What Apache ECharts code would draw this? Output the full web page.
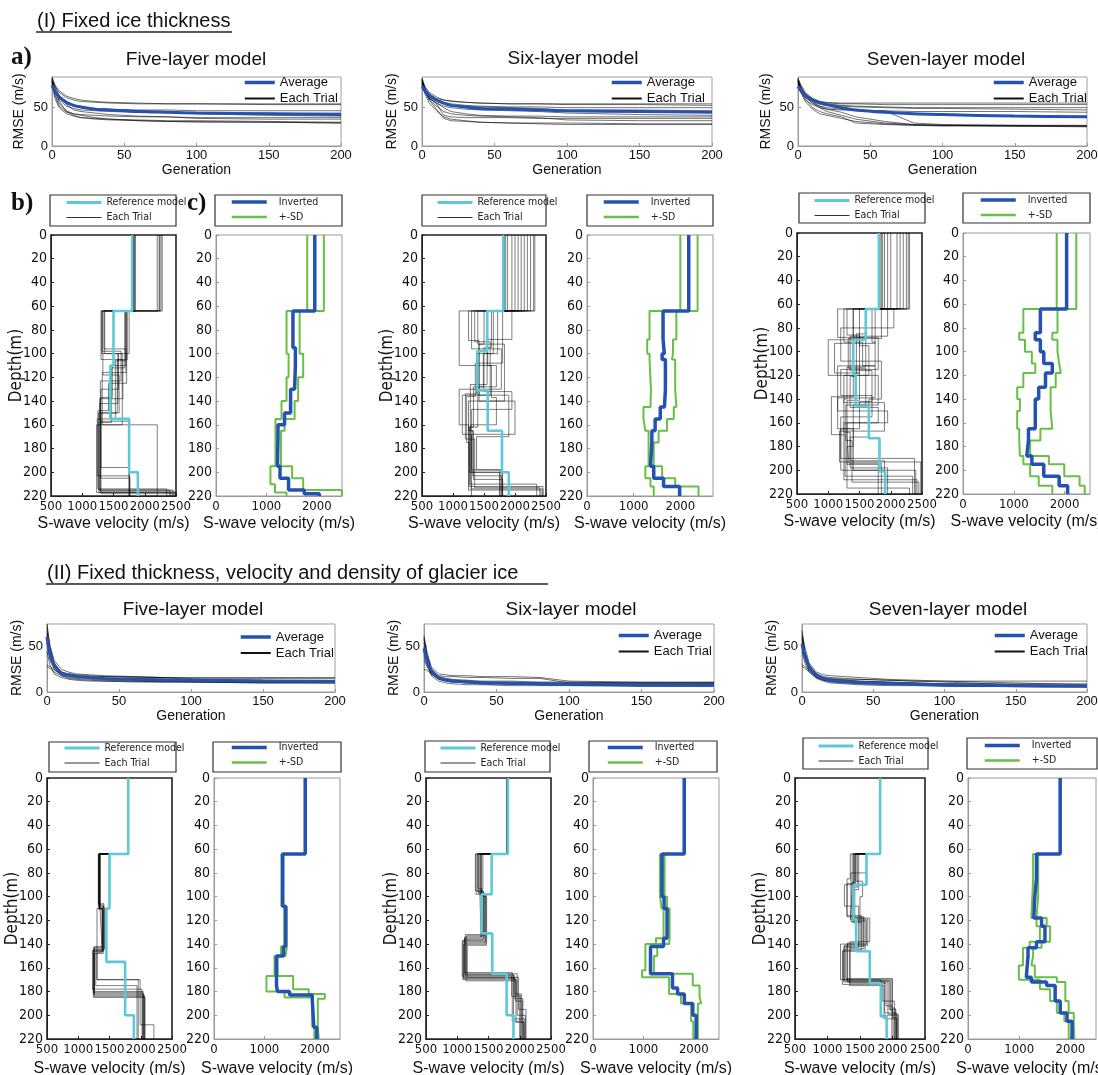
<!DOCTYPE html>
<html><head><meta charset="utf-8">
<script src="https://cdn.jsdelivr.net/npm/echarts@6/dist/echarts.min.js"></script>
<style>html,body{margin:0;padding:0;background:#fff}#c{width:1098px;height:1075px}</style>
</head><body><div id="c"></div><script>
// ---------------- DATA ----------------
const gens = [0,2,5,10,15,20,30,40,60,80,100,150,200];

// RMSE, section I
const avgI5 = [79,72,64,57,53,51,48,47,45,44,43,42,41];
const rmseI5 = [
 [86,78,70,63,60,58,57,56,55,55,55,54,54],
 [90,80,72,65,62,60,58,57,56,55,55,55,55],
 [84,74,64,56,52,50,49,48,47,47,46,46,46],
 [88,70,60,52,49,47,46,45,44,44,43,43,43],
 [82,72,62,55,52,50,48,47,46,45,42,40,39],
 [85,66,52,44,42,41,40,39,38,38,37,37,37],
 [80,62,50,42,39,37,36,35,34,33,33,32,31],
 [87,75,58,45,40,37,35,34,33,32,32,31,30],
 [83,68,55,46,42,40,37,35,33,32,31,31,30],
 [89,78,66,54,47,45,43,41,39,38,36,35,35]];
const avgI6 = [78,72,66,60,56,53,51,49,48,47,46,45,44];
const rmseI6 = [
 [84,76,68,62,60,58,57,56,55,55,55,55,55],
 [88,78,70,64,60,59,57,56,55,55,54,54,53],
 [82,74,66,60,57,55,53,52,51,51,50,50,50],
 [86,72,64,58,55,53,52,51,50,49,47,47,46],
 [80,70,62,56,52,50,48,47,46,45,43,41,40],
 [85,74,63,55,40,38,37,37,37,36,36,36,36],
 [83,70,60,52,45,42,40,39,38,37,34,33,33],
 [88,76,60,48,36,33,32,31,30,30,30,29,29],
 [81,68,56,46,38,35,33,31,30,29,28,28,28],
 [87,72,62,56,50,45,42,40,39,39,38,38,38]];
const avgI7 = [78,72,66,60,56,54,50,47,44,42,41,39,38];
const rmseI7 = [
 [85,76,68,62,58,57,56,56,56,56,56,56,56],
 [88,80,70,62,58,56,55,55,54,54,54,54,54],
 [83,74,66,60,57,55,53,52,51,50,50,50,50],
 [86,72,64,58,55,53,52,51,50,49,49,48,47],
 [80,70,60,54,50,48,47,46,46,45,45,45,44],
 [87,76,62,50,45,42,38,30,28,27,27,27,27],
 [82,72,64,56,50,45,40,35,30,28,27,26,26],
 [88,78,68,58,52,48,44,38,32,28,27,26,25],
 [84,70,58,48,42,40,36,32,29,27,26,26,26],
 [86,74,64,56,52,50,48,47,46,30,28,27,26]];

// RMSE, section II
const avgII5 = [61,42,30,21,19,17.5,16,15,14,13.5,13,12,11.5];
const rmseII5 = [
 [75,50,30,22,20,19,18,17,16,16,16,16,16],
 [68,45,28,20,18,17,16,15,15,14,14,13,13],
 [55,35,25,19,17,16,15,14,13,12,12,11,11],
 [30,28,24,20,18,17,16,15,14,13,12,11,10],
 [72,52,35,25,22,20,19,18,17,16,15,15,15],
 [62,40,26,18,15,14,13,12,12,11,11,10,10],
 [45,30,20,16,14,13,12,12,11,11,11,10,10],
 [28,26,22,18,16,15,14,13,12,12,11,11,11],
 [65,48,32,22,19,18,17,17,17,16,14,13,12],
 [58,38,27,21,18,17,16,15,14,14,13,12,12]];
const avgII6 = [48,35,24,16,13.5,12,11,10,9.5,9,8.5,8,7.5];
const rmseII6 = [
 [60,40,25,18,17,17,16,16,15,15,10,10,10],
 [55,38,22,16,14,13,12,11,11,10,10,10,10],
 [40,30,20,14,12,11,10,9,9,8,8,8,8],
 [25,24,20,15,13,12,11,10,9,9,8,7,7],
 [62,45,28,20,19,18,18,17,17,16,12,11,11],
 [50,32,18,12,10,9,8,8,7,7,7,6,6],
 [58,42,26,17,15,14,13,12,12,11,11,10,10],
 [35,28,20,14,12,11,10,10,9,8,8,7,7],
 [48,36,23,15,13,12,11,10,9,9,8,8,8],
 [45,34,22,16,14,13,12,11,10,10,9,9,9]];
const avgII7 = [53,40,28,19,15,13,11.5,10.5,9.5,8.5,8,7,6.5];
const rmseII7 = [
 [68,45,30,20,17,16,15,14,13,12,12,12,12],
 [60,42,26,18,15,14,13,12,11,10,9,9,9],
 [30,28,24,18,15,13,12,11,10,9,8,7,7],
 [55,38,25,16,13,12,11,10,9,8,7,6,6],
 [65,50,32,22,19,18,17,16,14,13,12,10,8],
 [45,32,22,15,12,10,9,8,7,7,6,6,5],
 [28,26,22,17,14,12,11,10,9,8,8,7,7],
 [62,44,28,19,16,15,14,14,13,12,11,8,7],
 [50,36,24,16,13,11,10,9,8,8,7,6,6],
 [58,40,27,18,15,14,13,12,11,10,9,8,7]];

// Velocity profiles: each layer = [velocity (m/s), bottom depth (m)]
const ref5 = [[1800,64],[1500,110],[1450,155],[1750,200],[1890,220]];
const ref6 = [[1810,64],[1550,98],[1390,131],[1560,165],[1790,200],[1900,220]];
const ref7 = [[1810,64],[1600,90],[1400,119],[1440,146],[1650,173],[1820,201],[1910,220]];

const trialsI5 = [
 [[1820,64],[1320,98],[1620,123],[1290,216],[2470,220]],
 [[1830,64],[1720,105],[1560,150],[1260,215],[2400,220]],
 [[2230,64],[1310,100],[1640,160],[1230,217],[2500,220]],
 [[2260,64],[1700,110],[1480,137],[1290,205],[1760,220]],
 [[1810,64],[1350,96],[1700,116],[1320,160],[2200,220]],
 [[2200,64],[1750,100],[1570,142],[1280,157],[1750,220]],
 [[1840,64],[1330,118],[1590,150],[1300,196],[1750,220]],
 [[2240,64],[1690,106],[1530,155],[1240,203],[1760,220]],
 [[1820,64],[1300,105],[1650,138],[1280,215],[2450,220]],
 [[1850,64],[1710,125],[1420,148],[1250,214],[2350,220]],
 [[2280,64],[1360,100],[1580,130],[1300,218],[2500,220]],
 [[1800,64],[1680,112],[1470,158],[1270,217],[2420,220]]];
const trialsI6 = [
 [[1830,64],[1350,90],[1600,135],[1150,168],[1290,200],[1800,220]],
 [[2320,64],[1100,110],[1700,128],[1400,162],[1260,212],[2450,220]],
 [[2100,64],[1500,92],[1420,140],[2000,168],[1300,198],[1760,220]],
 [[1950,64],[1650,100],[1380,134],[1200,172],[1350,213],[2400,220]],
 [[2200,64],[1950,88],[1550,126],[1280,165],[1330,206],[1800,220]],
 [[2050,64],[1300,96],[1780,130],[1100,160],[1250,215],[2420,220]],
 [[1880,64],[1560,110],[1620,137],[1700,160],[1280,200],[1300,220]],
 [[2250,64],[1250,89],[1420,135],[1900,170],[1380,198],[1790,220]],
 [[2000,64],[1720,100],[1490,128],[1330,162],[1270,210],[2350,220]],
 [[2150,64],[1400,92],[1830,140],[1250,165],[1320,203],[1780,220]],
 [[1850,64],[1620,95],[1500,132],[1950,147],[1300,214],[2450,220]],
 [[2300,64],[1800,108],[1360,136],[1220,175],[1260,200],[1750,220]]];
const trialsI7 = [
 [[1830,64],[1150,88],[1600,113],[1300,140],[1250,168],[1350,192],[1900,220]],
 [[2250,64],[1950,87],[1350,116],[1700,142],[1500,165],[1200,200],[2400,220]],
 [[1900,64],[1400,90],[1000,120],[1800,145],[1280,175],[1380,210],[2450,220]],
 [[2100,64],[1700,92],[1750,112],[1150,150],[1950,160],[1300,195],[1800,220]],
 [[2300,64],[1300,86],[1500,118],[1400,138],[1050,170],[1270,205],[2350,220]],
 [[1850,64],[2050,80],[1200,108],[1850,140],[1650,172],[1350,198],[1950,220]],
 [[2000,64],[1500,95],[1650,120],[1250,143],[1900,167],[1180,193],[2480,220]],
 [[2200,64],[1850,89],[1320,114],[1600,145],[1400,180],[1300,215],[2300,220]],
 [[1950,64],[1250,92],[1550,112],[1750,139],[1150,165],[1400,200],[1900,220]],
 [[2150,64],[1600,85],[1450,121],[1350,147],[1800,160],[1250,208],[2420,220]],
 [[1870,64],[1750,93],[1100,118],[1500,141],[1300,170],[1330,194],[1850,220]],
 [[2280,64],[1400,88],[1800,115],[1200,137],[1700,155],[1200,190],[2380,220]]];

const trialsII5 = [
 [[1800,64],[1330,110],[1390,145],[1250,182],[2050,220]],
 [[1800,64],[1340,108],[1400,148],[1260,180],[2040,220]],
 [[1800,64],[1350,112],[1380,143],[1240,184],[2060,220]],
 [[1800,64],[1320,106],[1410,146],[1230,178],[2020,220]],
 [[1800,64],[1345,110],[1380,147],[1300,170],[1960,220]],
 [[1800,64],[1335,109],[1420,144],[1250,185],[2070,220]],
 [[1800,64],[1340,110],[1300,170],[1990,208],[2210,220]],
 [[1800,64],[1325,107],[1400,145],[1240,181],[2030,220]],
 [[1800,64],[1350,110],[1385,142],[1260,183],[2050,220]],
 [[1800,64],[1330,111],[1395,146],[1280,175],[1940,220]]];
const trialsII6 = [
 [[1800,64],[1320,96],[1420,136],[1110,168],[1920,186],[2050,220]],
 [[1800,64],[1380,94],[1400,132],[1130,166],[1900,203],[2080,220]],
 [[1800,64],[1300,98],[1450,138],[1090,170],[1950,183],[2010,220]],
 [[1800,64],[1360,92],[1380,135],[1120,164],[1880,205],[2060,220]],
 [[1800,64],[1410,100],[1460,140],[1100,169],[1930,188],[2040,220]],
 [[1800,64],[1340,97],[1430,133],[1150,165],[1960,200],[2090,220]],
 [[1800,64],[1290,95],[1410,137],[1080,167],[1870,184],[2000,220]],
 [[1800,64],[1370,99],[1440,139],[1140,171],[1940,206],[2070,220]],
 [[1800,64],[1330,93],[1390,134],[1120,166],[1910,182],[2030,220]],
 [[1800,64],[1390,98],[1470,141],[1160,168],[1980,195],[2100,220]]];
const trialsII7 = [
 [[1800,64],[1420,88],[1380,118],[1550,142],[1250,172],[1880,198],[2060,220]],
 [[1800,64],[1460,92],[1400,120],[1600,140],[1300,171],[1950,195],[2050,220]],
 [[1800,64],[1350,85],[1300,116],[1520,145],[1240,170],[1820,200],[2080,220]],
 [[1800,64],[1480,94],[1420,118],[1650,138],[1350,173],[1900,192],[1990,220]],
 [[1800,64],[1400,90],[1260,108],[1480,143],[1280,169],[2000,202],[2070,220]],
 [[1800,64],[1600,80],[1360,121],[1580,146],[1230,174],[1850,188],[2030,220]],
 [[1800,64],[1440,87],[1540,100],[1500,139],[1310,172],[1930,199],[2090,220]],
 [[1800,64],[1380,95],[1350,119],[1620,141],[1260,171],[1970,196],[2010,220]],
 [[1800,64],[1430,89],[1300,117],[1560,144],[1340,175],[1870,203],[2060,220]],
 [[1800,64],[1410,91],[1390,122],[1530,140],[1200,170],[1990,194],[2040,220]]];

const invI5 = [[1960,64],[1527,95],[1575,110],[1560,130],[1480,150],[1360,160],[1230,170],[1220,195],[1270,205],[1440,215],[1750,218],[2050,220]];
const sdLoI5 = [[1810,64],[1400,100],[1440,120],[1400,140],[1300,155],[1180,195],[1080,210],[1170,217],[1400,220]];
const sdHiI5 = [[2140,64],[1660,100],[1730,120],[1630,140],[1560,155],[1360,165],[1290,195],[1510,205],[1730,215],[2500,220]];
const invI6 = [[2180,64],[1630,88],[1657,100],[1610,105],[1680,130],[1660,145],[1570,155],[1460,165],[1390,175],[1360,195],[1430,205],[1640,212],[1985,220]];
const sdLoI6 = [[2000,64],[1340,88],[1290,100],[1340,105],[1370,130],[1360,145],[1210,155],[1250,165],[1320,195],[1250,205],[1360,212],[1430,220]];
const sdHiI6 = [[2370,64],[1915,88],[1843,100],[1820,105],[1890,130],[1915,145],[1860,155],[1715,165],[1535,175],[1430,195],[1610,205],[1890,212],[2390,220]];
const invI7 = [[2040,64],[1523,84],[1423,90],[1523,100],[1590,110],[1758,118],[1624,130],[1490,140],[1423,165],[1289,175],[1255,188],[1356,195],[1590,205],[1893,213],[2060,220]];
const sdLoI7 = [[1845,64],[1188,84],[1107,90],[1220,100],[1355,110],[1423,118],[1188,130],[1067,140],[1120,150],[1067,165],[1107,175],[1120,188],[1188,195],[1322,205],[1490,213],[1758,220]];
const sdHiI7 = [[2230,64],[1860,84],[1758,90],[1860,100],[1893,110],[1926,118],[1825,130],[1725,150],[1758,165],[1523,175],[1322,188],[1691,195],[1993,205],[2295,213],[2396,220]];

const invII5 = [[1810,64],[1360,108],[1420,142],[1380,150],[1240,175],[1260,180],[1500,183],[1950,187],[1980,210],[2040,220]];
const sdLoII5 = [[1810,64],[1340,108],[1395,142],[1330,150],[1200,167],[1040,180],[1400,185],[1950,210],[1990,220]];
const sdHiII5 = [[1810,64],[1380,108],[1445,142],[1420,150],[1260,167],[1570,178],[1880,182],[2200,186],[2060,210],[2080,220]];
const invII6 = [[1810,64],[1370,100],[1410,110],[1470,135],[1400,142],[1141,165],[1577,177],[1678,182],[1812,190],[1980,200],[2047,220]];
const sdLoII6 = [[1810,64],[1330,100],[1360,110],[1400,135],[1250,140],[1040,162],[973,168],[1510,182],[1745,190],[1946,205],[1990,220]];
const sdHiII6 = [[1810,64],[1420,100],[1470,110],[1520,135],[1510,140],[1275,150],[1208,165],[1980,175],[2114,185],[2148,190],[2081,220]];
const invII7 = [[1800,64],[1338,85],[1305,100],[1285,118],[1437,125],[1503,138],[1338,143],[1172,150],[1139,168],[1238,172],[1536,175],[1702,188],[1801,198],[1934,205],[2033,220]];
const sdLoII7 = [[1800,64],[1272,85],[1238,118],[1338,125],[1404,138],[1205,143],[1073,158],[993,170],[1404,178],[1603,188],[1735,198],[1881,205],[1967,220]];
const sdHiII7 = [[1800,64],[1371,100],[1338,118],[1536,125],[1603,138],[1437,143],[1272,150],[1238,158],[1305,168],[1735,172],[1901,188],[1967,198],[2066,210],[2079,220]];

// ---------------- BUILD ----------------
const F = '"Liberation Sans", Arial, sans-serif';
const FN = '"Liberation Sans Narrow", "DejaVu Sans Condensed", "Liberation Sans", sans-serif';
const BLUE = '#2352b3', CYAN = '#5cc8d8', GREEN = '#68bf45', TRIAL = 'rgba(0,0,0,0.5)';
const grids = [], xAxes = [], yAxes = [], series = [], legends = [], graphics = [];
const plain = v => String(v);

function steps(layers){ const p=[]; let top=0; layers.forEach(([v,b])=>{p.push([v,top]); p.push([v,b]); top=b;}); return p; }

function addRmse(box, ymax, xGap, yGap, trials, avg, leg){
  const gi = grids.length;
  grids.push({left:box[0], top:box[1], width:box[2], height:box[3], show:true, borderColor:'#a0a0a0', borderWidth:1, outerBoundsMode:'none', containLabel:false});
  const lab = {fontSize:13, color:'#111', fontFamily:F, formatter:plain};
  xAxes.push({gridIndex:gi, type:'value', min:0, max:200, interval:50, name:'Generation', nameLocation:'middle', nameGap:xGap,
    nameTextStyle:{fontSize:14, color:'#111', fontFamily:F}, axisLine:{onZero:false, lineStyle:{color:'#999'}},
    axisTick:{inside:true, length:3, lineStyle:{color:'#999'}}, axisLabel:Object.assign({margin:3}, lab), splitLine:{show:false}});
  yAxes.push({gridIndex:gi, type:'value', min:0, max:ymax, interval:50, name:'RMSE (m/s)', nameLocation:'middle', nameGap:yGap, nameRotate:90,
    nameTextStyle:{fontSize:14, color:'#111', fontFamily:F}, axisLine:{onZero:false, lineStyle:{color:'#999'}},
    axisTick:{inside:true, length:3, lineStyle:{color:'#999'}}, axisLabel:Object.assign({margin:4, showMaxLabel:false}, lab), splitLine:{show:false}});
  trials.forEach(t => series.push({type:'line', name:'Each Trial', xAxisIndex:gi, yAxisIndex:gi, data:gens.map((g,i)=>[g,t[i]]),
    symbol:'none', silent:true, itemStyle:{color:'#111'}, lineStyle:{color:'rgba(0,0,0,0.55)', width:1}, z:2}));
  series.push({type:'line', name:'Average', xAxisIndex:gi, yAxisIndex:gi, data:gens.map((g,i)=>[g,avg[i]]), smooth:0.3,
    symbol:'none', silent:true, itemStyle:{color:BLUE}, lineStyle:{color:BLUE, width:3}, z:3});
  legends.push({left:leg[0], top:leg[1], orient:'vertical', padding:0, itemGap:3, itemWidth:30, itemHeight:12, selectedMode:false,
    itemStyle:{opacity:0},
    textStyle:{fontSize:13, color:'#111', fontFamily:F},
    data:[{name:'Average', lineStyle:{color:BLUE, width:3.5}}, {name:'Each Trial', lineStyle:{color:'#111', width:2}}]});
}

function addVel(box, xmin, xmax, xint, dark, depthName, xGap){
  const gi = grids.length;
  grids.push({left:box[0], top:box[1], width:box[2], height:box[3], show:true, borderColor: dark?'#222':'#999', borderWidth: dark?1.6:1, outerBoundsMode:'none', containLabel:false});
  const lab = {fontSize:13, color:'#111', fontFamily:FN, formatter:plain};
  const lc = dark ? '#222' : '#999';
  xAxes.push({gridIndex:gi, type:'value', min:xmin, max:xmax, interval:xint, name:'S-wave velocity (m/s)', nameLocation:'middle', nameGap:xGap,
    nameTextStyle:{fontSize:16, color:'#111', fontFamily:F}, axisLine:{onZero:false, lineStyle:{color:lc}},
    axisTick:{inside:true, length:3, lineStyle:{color:lc}}, axisLabel:Object.assign({margin:4, interval:0, hideOverlap:false, showMinLabel:true, showMaxLabel: xmax % xint === 0}, lab), splitLine:{show:false}});
  yAxes.push({gridIndex:gi, type:'value', inverse:true, min:0, max:220, interval:20, name: depthName ? 'Depth(m)' : '', nameLocation:'middle', nameGap:26, nameRotate:90,
    nameMoveOverlap:false,
    nameTextStyle:{fontSize:17, color:'#111', fontFamily:FN}, axisLine:{onZero:false, lineStyle:{color:lc}},
    axisTick:{inside:true, length:3, lineStyle:{color:lc}}, axisLabel:Object.assign({margin:4, interval:0}, lab, {fontSize:14}), splitLine:{show:false}});
  return gi;
}
function prof(gi, layers, name, color, width, z){
  series.push({type:'line', name:name, xAxisIndex:gi, yAxisIndex:gi, data:steps(layers), symbol:'none', silent:true,
    itemStyle:{color:color}, lineStyle:{color:color, width:width}, z:z});
}
function legBox(r){ graphics.push({type:'rect', shape:{x:r[0], y:r[1], width:r[2], height:r[3]}, style:{fill:'none', stroke:'#333', lineWidth:1.2}, silent:true}); }
function leftPanel(box, xGap, trials, ref, legXY, boxR){
  const gi = addVel(box, 500, 2500, 500, true, true, xGap);
  trials.forEach(t => prof(gi, t, 'Each Trial', TRIAL, 1, 2));
  prof(gi, ref, 'Reference model', CYAN, 2.6, 3);
  legends.push({left:legXY[0], top:legXY[1], orient:'vertical', padding:0, itemGap:4, itemWidth:35, itemHeight:11, selectedMode:false,
    itemStyle:{opacity:0},
    textStyle:{fontSize:10.5, color:'#222', fontFamily:FN},
    data:[{name:'Reference model', lineStyle:{color:CYAN, width:3}}, {name:'Each Trial', lineStyle:{color:'#333', width:1.2}}]});
  legBox(boxR);
}
function rightPanel(box, xmax, xGap, inv, lo, hi, legXY, boxR){
  const gi = addVel(box, 0, xmax, 1000, false, false, xGap);
  prof(gi, lo, '+-SD', GREEN, 2, 2);
  prof(gi, hi, '+-SD', GREEN, 2, 2);
  prof(gi, inv, 'Inverted', BLUE, 3.5, 3);
  legends.push({left:legXY[0], top:legXY[1], orient:'vertical', padding:0, itemGap:4, itemWidth:35, itemHeight:11, selectedMode:false,
    itemStyle:{opacity:0},
    textStyle:{fontSize:10.5, color:'#222', fontFamily:FN, padding:[0,0,0,7]},
    data:[{name:'Inverted', lineStyle:{color:BLUE, width:3.5}}, {name:'+-SD', lineStyle:{color:GREEN, width:2.5}}]});
  legBox(boxR);
}

// Section I
addRmse([52,77,289,69], 90, 14, 26, rmseI5, avgI5, [243,76]);
addRmse([422,77,290,69], 90, 14, 21, rmseI6, avgI6, [610,76]);
addRmse([798,77,289,69], 90, 14, 25, rmseI7, avgI7, [992,76]);
leftPanel([51,235,125,261], 20, trialsI5, ref5, [65,197], [50,195,126,31]);
rightPanel([216,235,126,261], 2500, 20, invI5, sdLoI5, sdHiI5, [230,196.5], [215,195,127,31]);
leftPanel([422,235,124,261], 20, trialsI6, ref6, [436,197], [422,195,124,31]);
rightPanel([587,235,126,261], 2700, 20, invI6, sdLoI6, sdHiI6, [602,196.5], [587,195,126,31]);
leftPanel([797,233,125,261], 20, trialsI7, ref7, [813,195], [799,193,126,30]);
rightPanel([963,233,127,261], 2500, 20, invI7, sdLoI7, sdHiI7, [979,194.5], [963,193,127,30]);
// Section II
addRmse([47,624,288,68], 75, 17, 21, rmseII5, avgII5, [239,630.5]);
addRmse([424,624,290,68], 75, 17, 19, rmseII6, avgII6, [617,629]);
addRmse([802,624,285,68], 75, 17, 22, rmseII7, avgII7, [993,629]);
leftPanel([47,778,125,261], 22, trialsII5, ref5, [63,742.5], [49,742,127,30]);
rightPanel([214,778,126,261], 2500, 22, invII5, sdLoII5, sdHiII5, [230,742], [213,742,128,30]);
leftPanel([426,778,125,261], 22, trialsII6, ref6, [439,742.5], [425,741,125,31]);
rightPanel([593,778,126,261], 2500, 22, invII6, sdLoII6, sdHiII6, [606,742], [589,741,128,31]);
leftPanel([795,778,130,261], 22, trialsII7, ref7, [817,740.5], [803,738,125,31]);
rightPanel([968,778,128,261], 2500, 22, invII7, sdLoII7, sdHiII7, [983,740], [967,738,130,31]);

// Text graphics
function txt(x, y, s, font, align){ graphics.push({type:'text', x:x, y:y, silent:true,
  style:{text:s, font:font, fill:'#111', align:align||'left', verticalAlign:'middle', textAlign:align||'left', textVerticalAlign:'middle'}}); }
txt(37, 21, '(I) Fixed ice thickness', '20px ' + F);
graphics.push({type:'line', shape:{x1:36, y1:32, x2:232, y2:32}, style:{stroke:'#222', lineWidth:1.3}, silent:true});
txt(47, 573, '(II) Fixed thickness, velocity and density of glacier ice', '20px ' + F);
graphics.push({type:'line', shape:{x1:46, y1:584, x2:548, y2:584}, style:{stroke:'#222', lineWidth:1.3}, silent:true});
txt(11, 58, 'a)', 'bold 25px "Liberation Serif", "DejaVu Serif", serif');
txt(11, 204, 'b)', 'bold 25px "Liberation Serif", "DejaVu Serif", serif');
txt(187, 204, 'c)', 'bold 25px "Liberation Serif", "DejaVu Serif", serif');
txt(196, 60, 'Five-layer model', '19px ' + F, 'center');
txt(573, 59, 'Six-layer model', '19px ' + F, 'center');
txt(946, 60, 'Seven-layer model', '19px ' + F, 'center');
txt(193, 610, 'Five-layer model', '19px ' + F, 'center');
txt(571, 610, 'Six-layer model', '19px ' + F, 'center');
txt(948, 610, 'Seven-layer model', '19px ' + F, 'center');

const chart = echarts.init(document.getElementById('c'), null, {renderer:'canvas'});
chart.setOption({
  backgroundColor:'#fff', animation:false,
  grid:grids, xAxis:xAxes, yAxis:yAxes, series:series, legend:legends, graphic:graphics
});
</script></body></html>
